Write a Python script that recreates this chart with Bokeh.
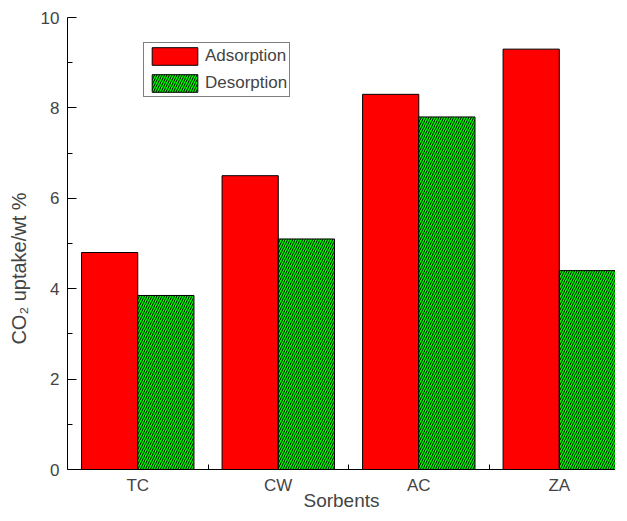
from bokeh.plotting import figure
from bokeh.models import ColumnDataSource, FixedTicker, Range1d, Legend, LegendItem
from bokeh.embed import file_html
from bokeh.resources import INLINE

categories = ["TC", "CW", "AC", "ZA"]
adsorption = [4.8, 6.5, 8.3, 9.3]
desorption = [3.85, 5.1, 7.8, 4.4]
y_ticks = [0, 2, 4, 6, 8, 10]
y_minor = [1, 3, 5, 7, 9]

FONT = "Liberation Sans"
pos = list(range(1, len(categories) + 1))
bar_w = 0.4

src = ColumnDataSource(dict(
    xa=[x - bar_w / 2 for x in pos],
    xd=[x + bar_w / 2 for x in pos],
    ads=adsorption,
    des=desorption,
))

p = figure(width=615, height=513, output_backend="svg", toolbar_location=None,
           x_range=Range1d(0.5, 4.4), y_range=Range1d(0, 10),
           min_border_left=67, min_border_right=0, min_border_top=17, min_border_bottom=42)
p.outline_line_color = None
p.xgrid.visible = False
p.ygrid.visible = False
p.background_fill_color = "white"

r_a = p.vbar(x="xa", top="ads", width=bar_w, bottom=0, source=src,
             fill_color="#ff0000", line_color="#000000", line_width=1)
r_d = p.vbar(x="xd", top="des", width=bar_w, bottom=0, source=src,
             fill_color="#00ff00", line_color="#000000", line_width=1,
             hatch_pattern="/", hatch_color="black", hatch_scale=5, hatch_weight=1)

# y axis
ya = p.yaxis[0]
ya.ticker = FixedTicker(ticks=y_ticks, minor_ticks=y_minor)
ya.major_tick_in = 9
ya.major_tick_out = 0
ya.minor_tick_in = 5
ya.minor_tick_out = 0
ya.major_label_standoff = 8
ya.axis_label = "CO\u2082 uptake/wt %\u2003\u2003\u2002"
ya.axis_label_text_font = FONT
ya.axis_label_text_font_size = "20px"
ya.axis_label_text_font_style = "normal"
ya.axis_label_standoff = 8
ya.major_label_text_font = FONT
ya.major_label_text_font_size = "17px"
ya.axis_line_color = "black"
ya.major_tick_line_color = "black"
ya.minor_tick_line_color = "black"

# x axis
xa = p.xaxis[0]
xa.ticker = FixedTicker(ticks=pos, minor_ticks=[x + 0.5 for x in pos[:-1]])
xa.major_label_overrides = {x: c for x, c in zip(pos, categories)}
xa.major_tick_in = 0
xa.major_tick_out = 0
xa.minor_tick_in = 5
xa.minor_tick_out = 0
xa.major_label_standoff = 6
xa.major_label_text_font = FONT
xa.major_label_text_font_size = "17px"
xa.axis_label = "Sorbents"
xa.axis_label_text_font = FONT
xa.axis_label_text_font_size = "19px"
xa.axis_label_text_font_style = "normal"
xa.axis_label_standoff = -8
xa.axis_line_color = "black"
xa.minor_tick_line_color = "black"

legend = Legend(items=[LegendItem(label="Adsorption", renderers=[r_a]),
                       LegendItem(label="Desorption", renderers=[r_d])],
                location=(76, 372), orientation="vertical",
                glyph_width=57, glyph_height=22, label_standoff=2,
                padding=2, spacing=5, margin=0,
                border_line_color="black", border_line_width=1,
                label_text_font=FONT, label_text_font_size="17px",
                background_fill_color="white", background_fill_alpha=1.0)
p.add_layout(legend)

open("out.html", "w").write(file_html(p, INLINE))
